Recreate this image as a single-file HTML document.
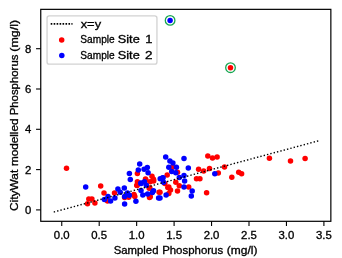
<!DOCTYPE html>
<html><head><meta charset="utf-8"><title>chart</title>
<style>
html,body{margin:0;padding:0;background:#fff;}
body{width:342px;height:258px;overflow:hidden;font-family:"Liberation Sans",sans-serif;}
svg{display:block}
text{font-family:"Liberation Sans",sans-serif;fill:#000;stroke:#000;stroke-width:0.3px;}
svg{will-change:transform}
</style></head><body>
<svg width="342" height="258" viewBox="0 0 342 258">
<rect x="0" y="0" width="342" height="258" fill="#fff"/>

<g fill="#ff0000">
<circle cx="66.5" cy="168.3" r="2.75"/>
<circle cx="100.7" cy="186.1" r="2.75"/>
<circle cx="104" cy="192.9" r="2.75"/>
<circle cx="114.5" cy="192.9" r="2.75"/>
<circle cx="107.5" cy="201" r="2.75"/>
<circle cx="88.8" cy="199" r="2.75"/>
<circle cx="91.9" cy="199" r="2.75"/>
<circle cx="87.5" cy="203.7" r="2.75"/>
<circle cx="94.9" cy="203.1" r="2.75"/>
<circle cx="124.6" cy="197.5" r="2.75"/>
<circle cx="128.7" cy="197.3" r="2.75"/>
<circle cx="134" cy="194.6" r="2.75"/>
<circle cx="134.8" cy="196.4" r="2.75"/>
<circle cx="149.5" cy="197.5" r="2.75"/>
<circle cx="137.1" cy="185.4" r="2.75"/>
<circle cx="149.2" cy="188.2" r="2.75"/>
<circle cx="137.4" cy="173.6" r="2.75"/>
<circle cx="152" cy="176.3" r="2.75"/>
<circle cx="167.2" cy="175.1" r="2.75"/>
<circle cx="145.5" cy="179" r="2.75"/>
<circle cx="153.5" cy="179.2" r="2.75"/>
<circle cx="153.7" cy="181.1" r="2.75"/>
<circle cx="150.2" cy="181.7" r="2.75"/>
<circle cx="145.9" cy="180.2" r="2.75"/>
<circle cx="137.4" cy="181.7" r="2.75"/>
<circle cx="136.8" cy="185.2" r="2.75"/>
<circle cx="164.8" cy="183.5" r="2.75"/>
<circle cx="167.8" cy="187.5" r="2.75"/>
<circle cx="159.1" cy="192.3" r="2.75"/>
<circle cx="133.8" cy="195.1" r="2.75"/>
<circle cx="150.3" cy="196.7" r="2.75"/>
<circle cx="149.9" cy="188.1" r="2.75"/>
<circle cx="172.6" cy="167.3" r="2.75"/>
<circle cx="177.5" cy="172.2" r="2.75"/>
<circle cx="198.6" cy="169.3" r="2.75"/>
<circle cx="196.5" cy="178.8" r="2.75"/>
<circle cx="199.9" cy="178.7" r="2.75"/>
<circle cx="175.8" cy="182.3" r="2.75"/>
<circle cx="179.3" cy="185.8" r="2.75"/>
<circle cx="188.7" cy="187" r="2.75"/>
<circle cx="168.8" cy="187" r="2.75"/>
<circle cx="170.5" cy="189.9" r="2.75"/>
<circle cx="177.5" cy="191.1" r="2.75"/>
<circle cx="168.8" cy="193.4" r="2.75"/>
<circle cx="160" cy="192.2" r="2.75"/>
<circle cx="207.8" cy="156.1" r="2.75"/>
<circle cx="212.5" cy="157.9" r="2.75"/>
<circle cx="217.1" cy="157" r="2.75"/>
<circle cx="203.7" cy="171" r="2.75"/>
<circle cx="209.5" cy="168.4" r="2.75"/>
<circle cx="224.5" cy="167" r="2.75"/>
<circle cx="218.3" cy="173.1" r="2.75"/>
<circle cx="231.8" cy="177.3" r="2.75"/>
<circle cx="206.6" cy="192.8" r="2.75"/>
<circle cx="238.7" cy="172.3" r="2.75"/>
<circle cx="241.6" cy="173.7" r="2.75"/>
<circle cx="269.4" cy="158.2" r="2.75"/>
<circle cx="290.5" cy="161.1" r="2.75"/>
<circle cx="305.1" cy="158.4" r="2.75"/>
<circle cx="230.5" cy="67.7" r="2.75"/>
</g><g fill="#0000ff">
<circle cx="85.7" cy="186.9" r="2.75"/>
<circle cx="117.9" cy="188.9" r="2.75"/>
<circle cx="120.2" cy="192.2" r="2.75"/>
<circle cx="108" cy="196.4" r="2.75"/>
<circle cx="114.9" cy="198.1" r="2.75"/>
<circle cx="104.4" cy="199.5" r="2.75"/>
<circle cx="110.6" cy="201.1" r="2.75"/>
<circle cx="124.3" cy="188" r="2.75"/>
<circle cx="124.6" cy="196.4" r="2.75"/>
<circle cx="127.5" cy="192.9" r="2.75"/>
<circle cx="129.3" cy="195.2" r="2.75"/>
<circle cx="135.9" cy="201.2" r="2.75"/>
<circle cx="124.6" cy="204" r="2.75"/>
<circle cx="141" cy="190.5" r="2.75"/>
<circle cx="142.8" cy="195.0" r="2.75"/>
<circle cx="147.6" cy="194.1" r="2.75"/>
<circle cx="141" cy="183.5" r="2.75"/>
<circle cx="146.3" cy="185.3" r="2.75"/>
<circle cx="165.7" cy="157" r="2.75"/>
<circle cx="139.7" cy="164" r="2.75"/>
<circle cx="147.3" cy="167.5" r="2.75"/>
<circle cx="144.1" cy="169.3" r="2.75"/>
<circle cx="138.3" cy="169.9" r="2.75"/>
<circle cx="148.1" cy="172.8" r="2.75"/>
<circle cx="129.4" cy="173.4" r="2.75"/>
<circle cx="168.8" cy="167.2" r="2.75"/>
<circle cx="130.3" cy="179.4" r="2.75"/>
<circle cx="160.2" cy="178.7" r="2.75"/>
<circle cx="163.1" cy="177.8" r="2.75"/>
<circle cx="144.4" cy="181.7" r="2.75"/>
<circle cx="140.9" cy="182.9" r="2.75"/>
<circle cx="153.5" cy="190.7" r="2.75"/>
<circle cx="152.4" cy="192.4" r="2.75"/>
<circle cx="166.1" cy="195" r="2.75"/>
<circle cx="158.6" cy="198" r="2.75"/>
<circle cx="169.9" cy="161.1" r="2.75"/>
<circle cx="172.9" cy="163.1" r="2.75"/>
<circle cx="184" cy="158.4" r="2.75"/>
<circle cx="176.4" cy="167.3" r="2.75"/>
<circle cx="188.3" cy="168.1" r="2.75"/>
<circle cx="171.7" cy="171.6" r="2.75"/>
<circle cx="175.8" cy="172.8" r="2.75"/>
<circle cx="184" cy="175.5" r="2.75"/>
<circle cx="179.3" cy="177.5" r="2.75"/>
<circle cx="162.3" cy="178.1" r="2.75"/>
<circle cx="163.5" cy="182.3" r="2.75"/>
<circle cx="184.6" cy="181.1" r="2.75"/>
<circle cx="184" cy="187" r="2.75"/>
<circle cx="192.2" cy="191.1" r="2.75"/>
<circle cx="191.3" cy="196" r="2.75"/>
<circle cx="160" cy="198" r="2.75"/>
<circle cx="214.8" cy="173.7" r="2.75"/>
<circle cx="170.1" cy="20.4" r="2.75"/>
</g>
<circle cx="170.1" cy="20.4" r="4.8" fill="none" stroke="#16a651" stroke-width="1.3"/>
<circle cx="230.5" cy="67.7" r="4.8" fill="none" stroke="#16a651" stroke-width="1.3"/>
<line x1="53.74" y1="212.06" x2="318.39" y2="140.86" stroke="#000" stroke-width="1.4" stroke-dasharray="1.4 2.05"/>
<rect x="40.75" y="9.35" width="290.10" height="211.95" fill="none" stroke="#000" stroke-width="1.2"/>
<line x1="61.75" y1="221.3" x2="61.75" y2="225.90" stroke="#000" stroke-width="1.1"/>
<text x="61.75" y="238.6" font-size="10.4" text-anchor="middle" textLength="15.8" lengthAdjust="spacingAndGlyphs">0.0</text>
<line x1="99.20" y1="221.3" x2="99.20" y2="225.90" stroke="#000" stroke-width="1.1"/>
<text x="99.20" y="238.6" font-size="10.4" text-anchor="middle" textLength="15.8" lengthAdjust="spacingAndGlyphs">0.5</text>
<line x1="136.65" y1="221.3" x2="136.65" y2="225.90" stroke="#000" stroke-width="1.1"/>
<text x="136.65" y="238.6" font-size="10.4" text-anchor="middle" textLength="15.8" lengthAdjust="spacingAndGlyphs">1.0</text>
<line x1="174.10" y1="221.3" x2="174.10" y2="225.90" stroke="#000" stroke-width="1.1"/>
<text x="174.10" y="238.6" font-size="10.4" text-anchor="middle" textLength="15.8" lengthAdjust="spacingAndGlyphs">1.5</text>
<line x1="211.55" y1="221.3" x2="211.55" y2="225.90" stroke="#000" stroke-width="1.1"/>
<text x="211.55" y="238.6" font-size="10.4" text-anchor="middle" textLength="15.8" lengthAdjust="spacingAndGlyphs">2.0</text>
<line x1="249.00" y1="221.3" x2="249.00" y2="225.90" stroke="#000" stroke-width="1.1"/>
<text x="249.00" y="238.6" font-size="10.4" text-anchor="middle" textLength="15.8" lengthAdjust="spacingAndGlyphs">2.5</text>
<line x1="286.45" y1="221.3" x2="286.45" y2="225.90" stroke="#000" stroke-width="1.1"/>
<text x="286.45" y="238.6" font-size="10.4" text-anchor="middle" textLength="15.8" lengthAdjust="spacingAndGlyphs">3.0</text>
<line x1="323.90" y1="221.3" x2="323.90" y2="225.90" stroke="#000" stroke-width="1.1"/>
<text x="323.90" y="238.6" font-size="10.4" text-anchor="middle" textLength="15.8" lengthAdjust="spacingAndGlyphs">3.5</text>
<line x1="36.05" y1="209.90" x2="40.75" y2="209.90" stroke="#000" stroke-width="1.1"/>
<text x="31.4" y="213.90" font-size="10.4" text-anchor="end" textLength="6.3" lengthAdjust="spacingAndGlyphs">0</text>
<line x1="36.05" y1="169.60" x2="40.75" y2="169.60" stroke="#000" stroke-width="1.1"/>
<text x="31.4" y="173.60" font-size="10.4" text-anchor="end" textLength="6.3" lengthAdjust="spacingAndGlyphs">2</text>
<line x1="36.05" y1="129.30" x2="40.75" y2="129.30" stroke="#000" stroke-width="1.1"/>
<text x="31.4" y="133.30" font-size="10.4" text-anchor="end" textLength="6.3" lengthAdjust="spacingAndGlyphs">4</text>
<line x1="36.05" y1="89.00" x2="40.75" y2="89.00" stroke="#000" stroke-width="1.1"/>
<text x="31.4" y="93.00" font-size="10.4" text-anchor="end" textLength="6.3" lengthAdjust="spacingAndGlyphs">6</text>
<line x1="36.05" y1="48.70" x2="40.75" y2="48.70" stroke="#000" stroke-width="1.1"/>
<text x="31.4" y="52.70" font-size="10.4" text-anchor="end" textLength="6.3" lengthAdjust="spacingAndGlyphs">8</text>
<text x="113.75" y="253.7" font-size="10.4" textLength="44.70" lengthAdjust="spacingAndGlyphs">Sampled</text>
<text x="162.15" y="253.7" font-size="10.4" textLength="61.00" lengthAdjust="spacingAndGlyphs">Phosphorus</text>
<text x="226.85" y="253.7" font-size="10.4" textLength="30.60" lengthAdjust="spacingAndGlyphs">(mg/l)</text>
<g transform="translate(17.5,0) rotate(-90)">
<text x="-210.95" y="0" font-size="10.4" textLength="41.20" lengthAdjust="spacingAndGlyphs">CityWat</text>
<text x="-165.95" y="0" font-size="10.4" textLength="47.40" lengthAdjust="spacingAndGlyphs">modelled</text>
<text x="-115.35" y="0" font-size="10.4" textLength="60.80" lengthAdjust="spacingAndGlyphs">Phosphorus</text>
<text x="-51.75" y="0" font-size="10.4" textLength="32.00" lengthAdjust="spacingAndGlyphs">(mg/l)</text>
</g>
<rect x="47.05" y="15.85" width="109.9" height="48.35" rx="2.2" ry="2.2" fill="#fff" fill-opacity="0.8" stroke="#d2d2d2" stroke-width="1.3"/>
<line x1="50.7" y1="23.95" x2="72.5" y2="23.95" stroke="#000" stroke-width="1.7" stroke-dasharray="1.6 1.36"/>
<circle cx="61.7" cy="40.1" r="2.75" fill="#ff0000"/>
<circle cx="61.8" cy="55.6" r="2.75" fill="#0000ff"/>
<text x="80.7" y="27.5" font-size="10.4" textLength="20.4" lengthAdjust="spacingAndGlyphs">x=y</text>
<text x="80.35" y="43.3" font-size="10.4" textLength="34.40" lengthAdjust="spacingAndGlyphs">Sample</text>
<text x="117.75" y="43.3" font-size="10.4" textLength="22.00" lengthAdjust="spacingAndGlyphs">Site</text>
<text x="145.15" y="43.3" font-size="10.4" textLength="7.20" lengthAdjust="spacingAndGlyphs">1</text>
<text x="80.35" y="58.7" font-size="10.4" textLength="34.40" lengthAdjust="spacingAndGlyphs">Sample</text>
<text x="117.75" y="58.7" font-size="10.4" textLength="22.00" lengthAdjust="spacingAndGlyphs">Site</text>
<text x="144.95" y="58.7" font-size="10.4" textLength="7.50" lengthAdjust="spacingAndGlyphs">2</text>
</svg></body></html>
